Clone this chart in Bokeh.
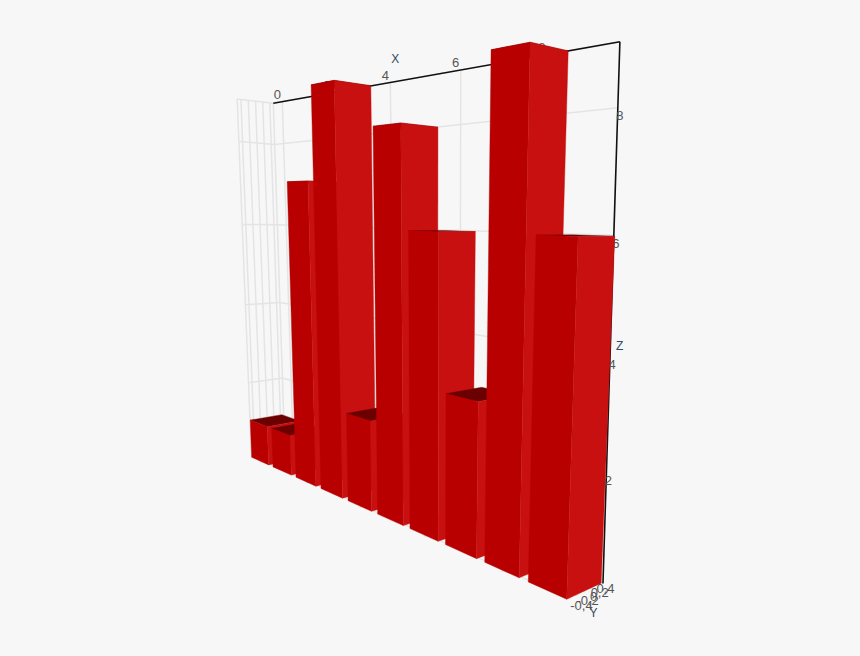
import numpy as np
from bokeh.plotting import figure
from bokeh.models import Range1d, ColumnDataSource, GlobalInlineStyleSheet
from bokeh.core.properties import value
from bokeh.embed import file_html
from bokeh.resources import INLINE

# ---- data ----
categories = [0, 1, 2, 3, 4, 5, 6, 7, 8, 9]
values = [1, 1, 7, 9, 2, 8, 6, 3, 9, 6]
x_ticks = [0, 2, 4, 6, 8]
y_ticks = [-0.4, -0.2, 0.0, 0.2, 0.4]
y_tick_labels = ["-0,4", "-0,2", "0", "0,2", "0,4"]
z_ticks = [0, 2, 4, 6, 8]

# ---- view ----
BAR_HALF = 0.4
X0, X1 = -0.4, 9.4
Y0, Y1 = -0.5, 0.5
Z0, Z1 = 0, 9

# camera estimates: where known 3-D corners land in the picture
wall_refs = [
    ((X0, Y1, Z1), (272, 102.5)), ((X1, Y1, Z1), (621, 41)), ((X1, Y1, Z0), (601, 586)),
    ((X1, Y0, Z0), (567, 600)), ((X0, Y0, Z0), (251, 458)), ((X0, Y0, Z1), (236, 99)),
    ((X0, Y1, Z0), (285, 451)), ((4, Y1, Z1), (390, 83)), ((6, Y1, Z1), (461, 71)),
    ((X0, Y0, 4), (245, 304)), ((X1, Y1, 6), (613, 234)), ((X1, Y1, 2), (605, 470)),
    ((X1, Y1, 4), (609.5, 355)), ((X0, Y1, 4), (280, 302)), ((X0, Y1, 8), (274, 143)),
    ((X1, Y1, 8), (617, 107)),
]
bar_refs = [
    ((X1, Y0, 0), (567, 600)), ((X1, Y1, 0), (601, 586)), ((8.6, Y0, 0), (528, 577)),
    ((X1, Y0, 6), (578, 237)), ((8.6, Y0, 6), (536, 236)), ((X1, Y1, 6), (613, 235)),
    ((7.6, Y0, 9), (491, 48)), ((8.4, Y0, 9), (529, 41)), ((8.4, Y1, 9), (567, 51)),
    ((2.6, Y0, 9), (311, 84)), ((3.4, Y0, 9), (334, 80)), ((3.4, Y1, 9), (371, 85)),
    ((X0, Y0, 0), (251, 458)), ((X0, Y0, 1), (250, 420)), ((X0, Y1, 1), (282, 412)),
    ((0.4, Y0, 1), (267, 427)), ((0.4, Y0, 0), (267, 464)),
    ((3.6, Y0, 2), (347, 413)), ((4.4, Y0, 2), (370, 421)), ((3.6, Y0, 0), (347, 501)),
    ((4.4, Y0, 0), (371, 511)),
    ((6.6, Y0, 3), (446, 394)), ((7.4, Y0, 3), (478, 402)), ((6.6, Y0, 0), (445, 542)),
    ((1.6, Y0, 7), (287, 182)), ((2.4, Y0, 7), (307, 180)), ((1.6, Y0, 0), (295, 477)),
    ((2.4, Y0, 0), (315, 486)),
    ((5.6, Y0, 6), (408, 231)), ((6.4, Y0, 6), (437, 230)), ((6.4, Y1, 6), (475, 231)),
    ((5.6, Y0, 0), (410, 524)), ((6.4, Y0, 0), (437, 542)),
    ((4.6, Y0, 8), (373, 125)), ((5.4, Y0, 8), (400, 123)), ((5.4, Y1, 8), (437, 127)),
    ((4.6, Y0, 0), (377, 515)), ((5.4, Y0, 0), (403, 525)),
]


def fit_camera(refs):
    A, b = [], []
    for (x, y, z), (u, v) in refs:
        A.append([x, y, z, 1, 0, 0, 0, 0, -u * x, -u * y, -u * z]); b.append(u)
        A.append([0, 0, 0, 0, x, y, z, 1, -v * x, -v * y, -v * z]); b.append(v)
    sol = np.linalg.lstsq(np.array(A, float), np.array(b, float), rcond=None)[0]
    return np.append(sol, 1).reshape(3, 4)


WALL = fit_camera(wall_refs)
BARS = fit_camera(bar_refs)


def proj(x, y, z, M=WALL):
    r = M @ np.array([x, y, z, 1.0])
    return float(r[0] / r[2]), float(r[1] / r[2])


def line3(a, b):
    pa, pb = proj(*a), proj(*b)
    return [pa[0], pb[0]], [pa[1], pb[1]]


p = figure(width=860, height=656, output_backend="svg", toolbar_location=None,
           x_range=Range1d(0, 860), y_range=Range1d(656, 0), min_border=0,
           background_fill_color="#f7f7f7", border_fill_color="#f7f7f7", outline_line_color=None)
p.axis.visible = False
p.grid.visible = False
p.stylesheets = [GlobalInlineStyleSheet(css="html,body{background:#f7f7f7;overflow:hidden}")]

# ---- grids ----
gx, gy = [], []
for t in x_ticks:
    for seg in (line3((t, Y1, Z0), (t, Y1, Z1)), line3((t, Y0, Z0), (t, Y1, Z0))):
        gx.append(seg[0]); gy.append(seg[1])
for t in y_ticks + [Y0, Y1]:
    seg = line3((X0, t, Z0), (X0, t, Z1))
    gx.append(seg[0]); gy.append(seg[1])
for t in y_ticks + [Y1]:
    seg = line3((X0, t, Z0), (X1, t, Z0))
    gx.append(seg[0]); gy.append(seg[1])
for t in z_ticks[1:] + [Z1]:
    for seg in (line3((X0, Y0, t), (X0, Y1, t)), line3((X0, Y1, t), (X1, Y1, t))):
        gx.append(seg[0]); gy.append(seg[1])
p.multi_line(gx, gy, line_color="#e4e4e4", line_width=1.5)

# ---- axis lines ----
ax, ay = line3((X0, Y1, Z1), (X1, Y1, Z1))
p.line(ax, ay, line_color="#111111", line_width=1.6)
ax, ay = line3((X1, Y1, Z1), (X1, Y1, Z0))
p.line(ax, ay, line_color="#111111", line_width=1.6)

# ---- labels ----
TICK = "#555555"
TITLE = "#34495e"


def labels(pts, txt, dxs, dys, color, size="13px"):
    xs = [proj(*q)[0] + d for q, d in zip(pts, dxs)]
    ys = [proj(*q)[1] + d for q, d in zip(pts, dys)]
    p.text(xs, ys, text=txt, text_color=color, text_font=value("Liberation Sans"),
           text_font_size=size, text_align="center", text_baseline="middle")


labels([(t, Y1, Z1) for t in x_ticks], [str(t) for t in x_ticks], [-5] * 5, [-7] * 5, TICK)
labels([(X1, Y1, t) for t in z_ticks[1:]], [str(t) for t in z_ticks[1:]], [2] * 4, [8] * 4, TICK)
labels([(X1, t, Z0) for t in y_ticks], y_tick_labels,
       [8.5 - 6.25 * t for t in y_ticks], [4.5 - 3.5 * t for t in y_ticks], TICK)
labels([(4.0, Y1, Z1)], ["X"], [5], [-24], TITLE, "12px")
labels([(X1, Y1, 4.3)], ["Z"], [9], [7], TITLE, "12px")
labels([(X1, Y0, Z0)], ["Y"], [27], [12], TITLE, "12px")

# ---- bars (far to near) ----
fx, fy, fc = [], [], []


def face(corners, color):
    pts = [proj(*c, M=BARS) for c in corners]
    fx.append([q[0] for q in pts]); fy.append([q[1] for q in pts]); fc.append(color)


for c, h in zip(categories, values):
    l, r = c - BAR_HALF, c + BAR_HALF
    face([(l, Y0, h), (r, Y0, h), (r, Y1, h), (l, Y1, h)], "#6b0000")
    face([(l, Y0, 0), (r, Y0, 0), (r, Y0, h), (l, Y0, h)], "#b80000")
    face([(r, Y0, 0), (r, Y1, 0), (r, Y1, h), (r, Y0, h)], "#c81010")

src = ColumnDataSource(dict(xs=fx, ys=fy, c=fc))
p.patches("xs", "ys", source=src, fill_color="c", line_color="c", line_width=0.4)

open("out.html", "w").write(file_html(p, INLINE))
